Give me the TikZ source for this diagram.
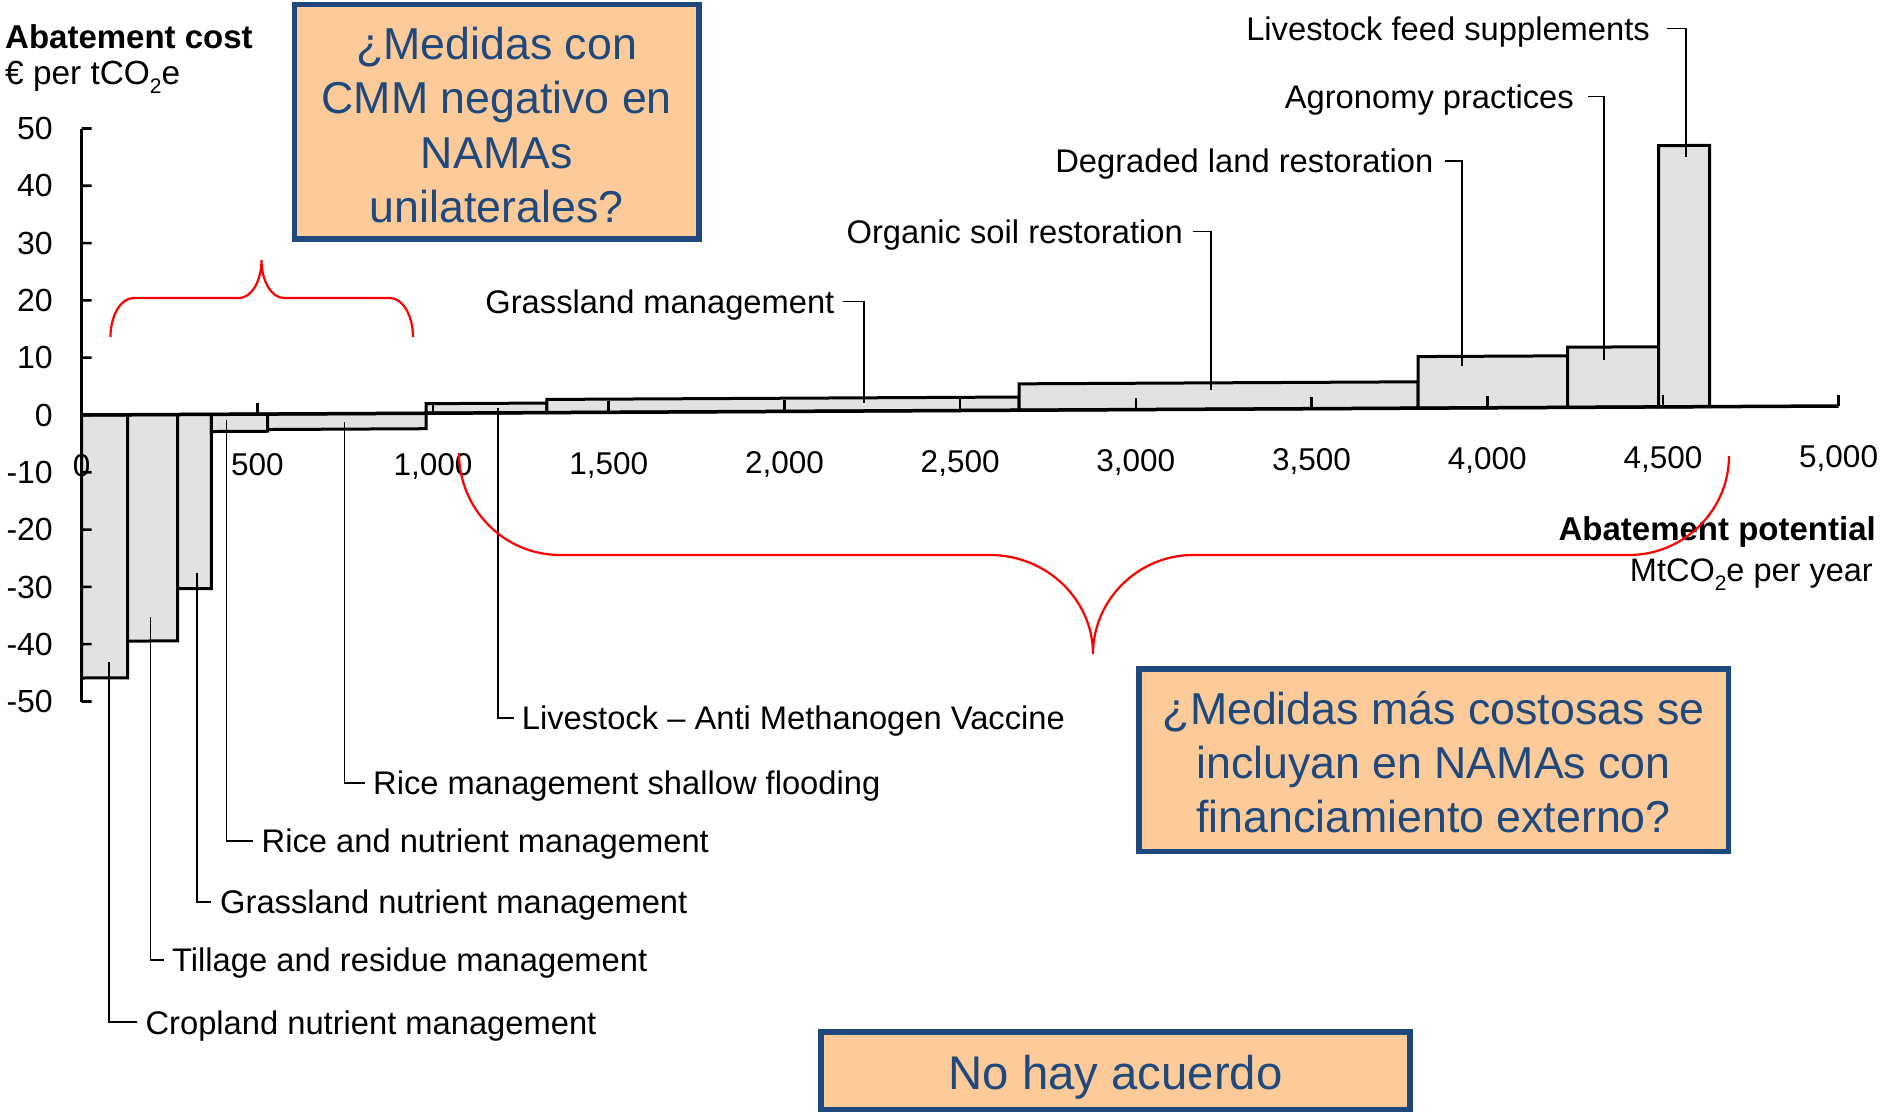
\documentclass[tikz,border=0pt]{standalone}
\usepackage{fontspec}
\setmainfont{Liberation Sans}
\definecolor{boxfill}{RGB}{253,203,153}
\definecolor{boxblue}{RGB}{31,73,125}
\definecolor{barfill}{RGB}{226,226,226}
\newcommand{\subtwo}{\raisebox{-0.28em}{\fontsize{21}{21}\selectfont 2}}
\begin{document}
\begin{tikzpicture}[x=1pt,y=-1pt,
  lab/.style={font=\fontsize{32.7}{39}\selectfont, inner sep=0pt, text height=23.5pt, text depth=0pt},
  leader/.style={line width=1.8pt, black},
  barbox/.style={draw=black, line width=3pt, fill=barfill, line join=miter},
  axisline/.style={line width=3.5pt, black},
  tickline/.style={line width=2.6pt, black},
  xtl/.style={font=\fontsize{31.5}{36}\selectfont, inner sep=0pt, anchor=base},
  ytl/.style={font=\fontsize{32}{36}\selectfont, inner sep=0pt, anchor=east},
  qbox/.style={draw=boxblue, line width=5.5pt, fill=boxfill, text=boxblue, align=center, inner sep=0pt},
  brace/.style={red, line width=2.2pt}
]
\fill[white] (0,0) rectangle (1883,1117);
\useasboundingbox (0,0) rectangle (1883,1117);

% ---------- scanned chart (slightly tilted) ----------
\begin{scope}[shift={(81.7pt,-415pt)}, x={(0.35138pt,0.0018pt)}, y={(0pt,5.73pt)}]
  \foreach \a/\b/\h in {0/131/-45.9, 131/273/-39.5, 273/369/-30.4, 369/529/-3.0, 529/980/-2.7,
                        980/1324/1.67, 1324/2668/2.3, 2668/3803/4.6, 3803/4229/9.0, 4229/4488/10.5, 4488/4633/45.6}
    \draw[barbox] (\a,0) -- (\a,\h) -- (\b,\h) -- (\b,0) -- cycle;
  % axes
  \draw[axisline] (0,50) -- (0,-50);
  \draw[axisline] (0,0) -- (5000,0);
  \foreach \v in {-50,-40,...,50} \draw[tickline] (0,\v) -- (28.5,\v);
  \foreach \v in {500,1000,...,5000} \draw[tickline] (\v,0) -- (\v,2.0);
  % tick labels
  \foreach \v in {-50,-40,...,50} \node[ytl] (yl\v) at (-81.7,\v) {\v};
  \foreach \v/\t in {0/0,500/500,1000/{1,000},1500/{1,500},2000/{2,000},2500/{2,500},3000/{3,000},3500/{3,500},4000/{4,000},4500/{4,500},5000/{5,000}}
    \node[xtl] (xl\v) at (\v,-10.8) {\t};
\end{scope}

% axis titles
\node[anchor=base west, inner sep=0pt, font=\bfseries\fontsize{33}{38}\selectfont] (act) at (5,48) {Abatement cost};
\node[anchor=base west, inner sep=0pt, font=\fontsize{33.4}{38}\selectfont] (acu) at (5,84) {€ per tCO\subtwo e};
\node[anchor=base east, inner sep=0pt, font=\bfseries\fontsize{33}{38}\selectfont] (apt) at (1876,540) {Abatement potential};
\node[anchor=base east, inner sep=0pt, font=\fontsize{32.5}{38}\selectfont] (apu) at (1873,581) {MtCO\subtwo e per year};

% lower labels
\node[lab, anchor=west] (cnm) at (145.4,1022.3) {Cropland nutrient management};
\node[lab, anchor=west] (trm) at (172,959.7) {Tillage and residue management};
\node[lab, anchor=west] (gnm) at (220,901.7) {Grassland nutrient management};
\node[lab, anchor=west] (rnm) at (261.5,840.7) {Rice and nutrient management};
\node[lab, anchor=west] (rms) at (373,783) {Rice management shallow flooding};
\node[lab, anchor=west] (lam) at (521.7,717.7) {Livestock – Anti Methanogen Vaccine};

\coordinate (cnm-e) at (108.8,661.7);
\coordinate (trm-e) at (150.5,616.7);
\coordinate (gnm-e) at (197,572.7);
\coordinate (rnm-e) at (226.4,420);
\coordinate (rms-e) at (344.4,421.7);
\coordinate (lam-e) at (498,408.3);

\draw[leader] ([xshift=-8pt]cnm.west) -| (cnm-e);
\draw[leader] ([xshift=-8pt]trm.west) -| (trm-e);
\draw[leader] ([xshift=-9pt]gnm.west) -| (gnm-e);
\draw[leader] ([xshift=-9pt]rnm.west) -| (rnm-e);
\draw[leader] ([xshift=-8pt]rms.west) -| (rms-e);
\draw[leader] ([xshift=-8pt]lam.west) -| (lam-e);

% upper labels
\node[lab, anchor=east] (gm) at (834.6,301.5) {Grassland management};
\node[lab, anchor=east] (osr) at (1183,231.5) {Organic soil restoration};
\node[lab, anchor=east] (dlr) at (1433.6,161) {Degraded land restoration};
\node[lab, anchor=east] (ap) at (1574,96.5) {Agronomy practices};
\node[lab, anchor=east] (lfs) at (1650,28.5) {Livestock feed supplements};

\coordinate (gm-e) at (864.3,403.3);
\coordinate (osr-e) at (1211,390);
\coordinate (dlr-e) at (1461.7,366);
\coordinate (ap-e) at (1604.2,360);
\coordinate (lfs-e) at (1685.8,156.7);

\draw[leader] ([xshift=8.4pt]gm.east) -| (gm-e);
\draw[leader] ([xshift=10pt]osr.east) -| (osr-e);
\draw[leader] ([xshift=11pt]dlr.east) -| (dlr-e);
\draw[leader] ([xshift=14pt]ap.east) -| (ap-e);
\draw[leader] ([xshift=17pt]lfs.east) -| (lfs-e);

% question boxes
\node[qbox, minimum width=404.5pt, minimum height=234.5pt, text height=202pt, text depth=0pt, font=\fontsize{44.7}{54.5}\selectfont] (q1) at (496.7,121.7)
  {¿Medidas con\\CMM negativo en\\NAMAs\\unilaterales?};
\node[qbox, minimum width=589.5pt, minimum height=182.5pt, text height=145pt, text depth=0pt, font=\fontsize{44.7}{54.2}\selectfont] (q2) at (1433.5,760)
  {¿Medidas más costosas se\\incluyan en NAMAs con\\financiamiento externo?};
\node[qbox, minimum width=589pt, minimum height=77.5pt, text height=38pt, text depth=0pt, font=\fontsize{47.3}{54}\selectfont] (q3) at (1115.6,1070.8)
  {No hay acuerdo};

% red braces
\draw[brace] (110.5,337) .. controls (110.5,315.5) and (120.8,298) .. (133.5,298) -- (239,298)
  .. controls (251.7,298) and (261.5,280.7) .. (261.5,260)
  .. controls (261.5,280.7) and (271.3,298) .. (284,298) -- (390,298)
  .. controls (402.7,298) and (413,315.5) .. (413,337);
\draw[brace] (459,453) .. controls (459,509) and (504,555) .. (560,555) -- (990,555)
  .. controls (1047,555) and (1093,600) .. (1093,654)
  .. controls (1093,600) and (1138,555) .. (1193,555) -- (1629,555)
  .. controls (1684,555) and (1729,510) .. (1729,456);
\end{tikzpicture}
\end{document}
